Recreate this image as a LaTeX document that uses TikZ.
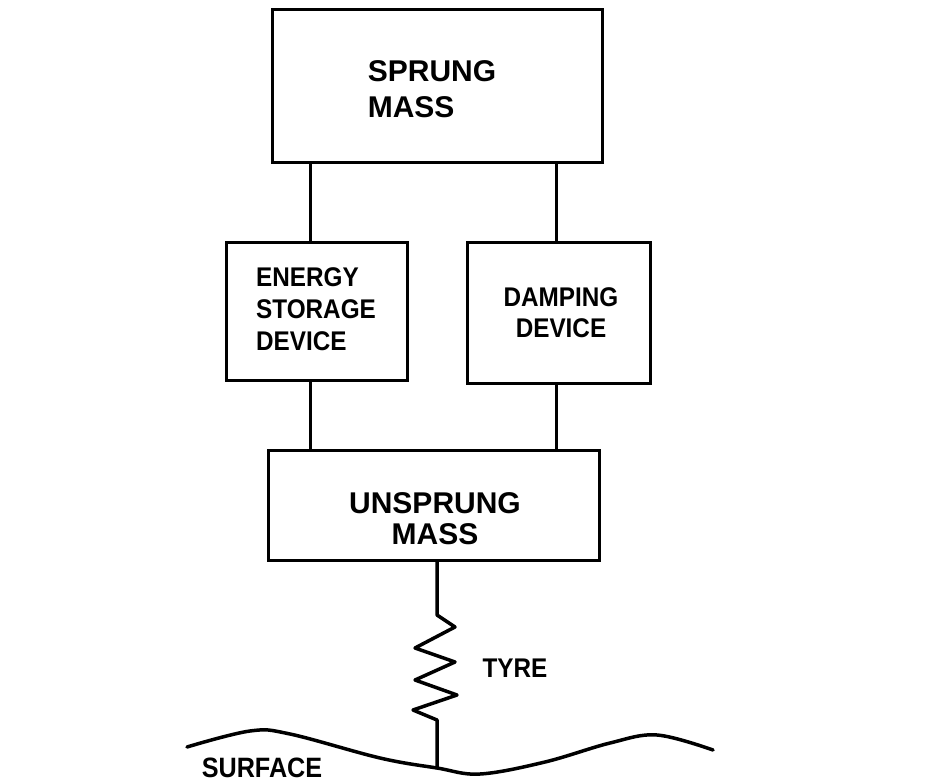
\documentclass[tikz,border=0pt]{standalone}
\usepackage{fontspec}
\setmainfont{Liberation Sans}
\newfontfamily\narrowfont[FakeStretch=0.9]{Liberation Sans}
\begin{document}
\begin{tikzpicture}[x=1pt,y=-1pt,
  box/.style={draw, line width=3pt, inner sep=0pt},
  wire/.style={line width=3pt},
  springline/.style={line width=3.5pt, line join=round, line cap=round},
  surf/.style={line width=3.5pt, line cap=round},
  small/.style={font=\narrowfont\bfseries\fontsize{27}{32}\selectfont, inner sep=0pt},
  big/.style={font=\bfseries\fontsize{30}{36}\selectfont, inner sep=0pt}]

\useasboundingbox[fill=white] (0,0) rectangle (934,783);

% boxes
\node[box, minimum width=330pt, minimum height=153pt] (sprung) at (437,86.5) {};
\node[box, minimum width=181pt, minimum height=137pt] (energy) at (316.5,311.5) {};
\node[box, minimum width=183pt, minimum height=140pt] (damping) at (558.5,313) {};
\node[box, minimum width=331pt, minimum height=110pt] (unsprung) at (433.5,505) {};

% labels
\node[big, align=left] (tsprung) at (432,89) {SPRUNG\\MASS};
\node[big, align=center, font=\bfseries\fontsize{30}{31}\selectfont] (tunsprung) at (435,519) {UNSPRUNG\\MASS};
\node[small, align=left] (tenergy) at (316,309) {ENERGY\\STORAGE\\DEVICE};
\node[small, align=center, font=\narrowfont\bfseries\fontsize{27}{31}\selectfont] (tdamping) at (561,313) {DAMPING\\DEVICE};
\node[small] (ttyre) at (515,668) {TYRE};
\node[small, font=\narrowfont\bfseries\fontsize{28}{32}\selectfont] (tsurface) at (262,768) {SURFACE};

% connector guides
\coordinate (lx) at (310,0);
\coordinate (rx) at (556,0);
\coordinate (ground) at (437,768);

\draw[wire] (sprung.south -| lx) -- (energy.north -| lx);
\draw[wire] (energy.south -| lx) -- (unsprung.north -| lx);
\draw[wire] (sprung.south -| rx) -- (damping.north -| rx);
\draw[wire] (damping.south -| rx) -- (unsprung.north -| rx);

% tyre spring
\draw[springline] (unsprung.south -| ground) -- (437,615) -- (455,627) -- (415,648)
  -- (455,662) -- (415,680) -- (457,695) -- (413,710) -- (437,720) -- (ground);

% surface
\draw[surf] plot[smooth, tension=0.6] coordinates {(187,747) (250,731) (290,734) (380,758) (437,768) (480,774) (545,762) (610,743) (657,735) (713,750)};

\end{tikzpicture}
\end{document}
